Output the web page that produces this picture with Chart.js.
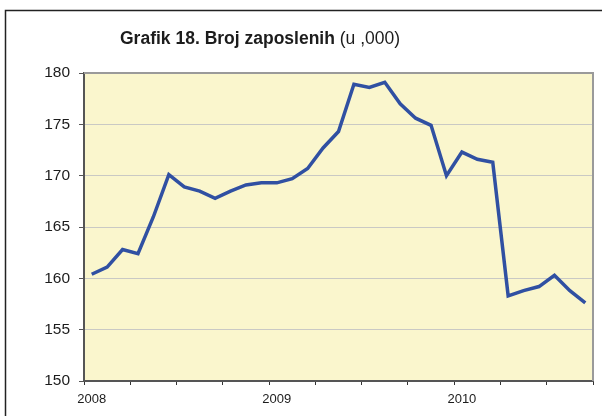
<!DOCTYPE html>
<html>
<head>
<meta charset="utf-8">
<script src="https://cdn.jsdelivr.net/npm/chart.js@4"></script>
<style>
    html, body { margin: 0; padding: 0; background: #ffffff; }
    #wrap { width: 606px; height: 416px; }
</style>
</head>
<body>
<div id="wrap"><canvas id="employment-chart" width="606" height="416"></canvas></div>
<script>
    'use strict';

    // Months Jan 2008 - Sep 2010
    const years = ['2008', '2009', '2010'];
    const months = [
        '01/2008', '02/2008', '03/2008', '04/2008', '05/2008', '06/2008', '07/2008', '08/2008', '09/2008', '10/2008', '11/2008', '12/2008',
        '01/2009', '02/2009', '03/2009', '04/2009', '05/2009', '06/2009', '07/2009', '08/2009', '09/2009', '10/2009', '11/2009', '12/2009',
        '01/2010', '02/2010', '03/2010', '04/2010', '05/2010', '06/2010', '07/2010', '08/2010', '09/2010'
    ];

    // Broj zaposlenih (u ,000)
    const employed = [
        160.4, 161.1, 162.8, 162.4, 166.0, 170.1, 168.9, 168.5, 167.8, 168.5, 169.1, 169.3,
        169.3, 169.7, 170.7, 172.7, 174.3, 178.9, 178.6, 179.1, 177.0, 175.6, 174.9, 170.0,
        172.3, 171.6, 171.3, 158.3, 158.8, 159.2, 160.3, 158.8, 157.6
    ];

    const yTicks = [150, 155, 160, 165, 170, 175, 180];

    const FONT = '"Liberation Sans", Arial, sans-serif';
    const TEXT = '#1c1c1c';
    const AXIS = '#555555';

    /**
     * Frame, plot fill and title
     */
    const decorPlugin = {
        id: 'decor',
        beforeDraw(chart) {
            const ctx = chart.ctx;
            const a = chart.chartArea;
            ctx.save();

            // outer frame (top + left)
            ctx.strokeStyle = '#222222';
            ctx.lineWidth = 1.5;
            ctx.beginPath();
            ctx.moveTo(602, 10.5);
            ctx.lineTo(5.5, 10.5);
            ctx.lineTo(5.5, 420);
            ctx.stroke();

            // plot background
            ctx.fillStyle = '#FAF6CD';
            ctx.fillRect(a.left, a.top, a.right - a.left, a.bottom - a.top);

            // title, bold part + plain part
            const bold = 'Grafik 18. Broj zaposlenih';
            const plain = ' (u ,000)';
            ctx.fillStyle = TEXT;
            ctx.textBaseline = 'alphabetic';
            ctx.textAlign = 'left';
            ctx.font = 'bold 17.5px ' + FONT;
            ctx.fillText(bold, 120, 44);
            const w = ctx.measureText(bold).width;
            ctx.font = '17.5px ' + FONT;
            ctx.fillText(plain, 120 + w, 44);

            ctx.restore();
        },
        afterDraw(chart) {
            const ctx = chart.ctx;
            const a = chart.chartArea;
            ctx.save();
            ctx.strokeStyle = '#9a9a9a';
            ctx.lineWidth = 2;
            ctx.beginPath();
            ctx.moveTo(a.left, a.top);
            ctx.lineTo(a.right, a.top);
            ctx.lineTo(a.right, a.bottom);
            ctx.stroke();
            ctx.restore();
        }
    };

    const ctx = document.getElementById('employment-chart').getContext('2d');

    const chart = new Chart(ctx, {
        type: 'line',
        data: {
            labels: months,
            datasets: [{
                label: 'Broj zaposlenih',
                data: employed,
                borderColor: '#3050A2',
                borderWidth: 3.5,
                pointRadius: 0,
                tension: 0,
                fill: false
            }]
        },
        options: {
            responsive: false,
            animation: false,
            layout: {
                padding: { top: 73, right: 13, left: 0, bottom: 0 }
            },
            plugins: {
                legend: { display: false },
                tooltip: { enabled: false },
                title: { display: false }
            },
            scales: {
                x: {
                    type: 'category',
                    offset: true,
                    afterFit: function(scale) {
                        scale.height = 35;
                    },
                    border: { color: AXIS, width: 2 },
                    grid: {
                        offset: true,
                        drawOnChartArea: false,
                        tickLength: 4,
                        tickColor: function(c) {
                            return (c.index === undefined || c.index % 3 === 0) ? '#333333' : 'rgba(0,0,0,0)';
                        }
                    },
                    ticks: {
                        autoSkip: false,
                        maxRotation: 0,
                        padding: 7,
                        color: TEXT,
                        font: { family: FONT, size: 13 },
                        callback: function(value, index) {
                            return index % 12 === 0 ? years[index / 12] : '';
                        }
                    }
                },
                y: {
                    min: yTicks[0],
                    max: yTicks[yTicks.length - 1],
                    afterFit: function(scale) {
                        scale.width = 84;
                    },
                    afterBuildTicks: function(scale) {
                        scale.ticks = yTicks.map(v => ({ value: v }));
                    },
                    border: { color: AXIS, width: 2 },
                    grid: {
                        color: '#C9C9C4',
                        lineWidth: 1,
                        tickLength: 5,
                        tickColor: AXIS
                    },
                    ticks: {
                        padding: 9,
                        color: TEXT,
                        font: { family: FONT, size: 15.5 }
                    }
                }
            }
        },
        plugins: [decorPlugin]
    });
</script>
</body>
</html>
